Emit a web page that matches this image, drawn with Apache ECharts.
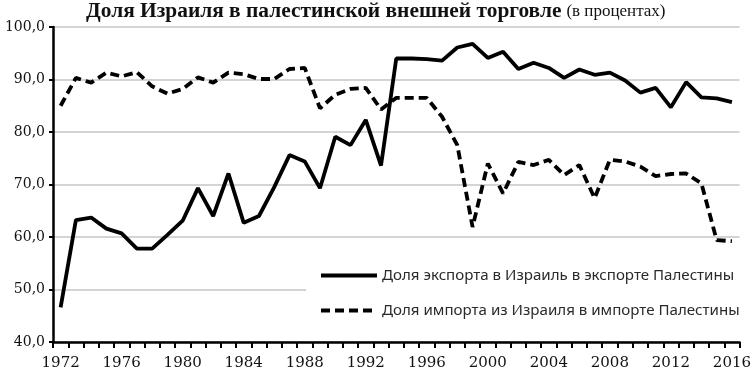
<!DOCTYPE html>
<html><head><meta charset="utf-8">
<script src="https://cdn.jsdelivr.net/npm/echarts@6/dist/echarts.min.js"></script>
<style>html,body{margin:0;padding:0;background:#fff}#c{width:754px;height:376px}</style>
</head><body><div id="c"></div>
<script>
const years = [];
for (let y = 1972; y <= 2016; y++) years.push(String(y));
const exportShare = [46.6,63.2,63.7,61.6,60.7,57.8,57.8,60.4,63.1,69.3,64.0,72.1,62.7,64.0,69.5,75.6,74.4,69.3,79.1,77.5,82.3,73.6,94.0,94.0,93.9,93.6,96.1,96.8,94.1,95.3,92.0,93.2,92.2,90.3,91.9,90.9,91.3,89.8,87.5,88.4,84.7,89.5,86.6,86.4,85.7];
const importShare = [85.0,90.3,89.4,91.3,90.6,91.4,88.7,87.3,88.2,90.4,89.4,91.3,91.0,90.1,90.1,92.0,92.2,84.5,87.1,88.2,88.4,84.3,86.5,86.5,86.5,82.9,77.5,61.9,74.0,68.3,74.3,73.7,74.7,71.8,73.7,67.4,74.7,74.4,73.4,71.6,72.0,72.1,70.2,59.4,59.2];
const seriesNames = ['Доля экспорта в Израиль в экспорте Палестины','Доля импорта из Израиля в импорте Палестины'];
const titleMain = 'Доля Израиля в палестинской внешней торговле';
const titleSub = '(в процентах)';

const chart = echarts.init(document.getElementById('c'));
chart.setOption({
  animation: false,
  backgroundColor: '#fff',
  title: {
    text: '{a|' + titleMain + '} {b|' + titleSub + '}',
    left: 86, top: 1, padding: 0,
    textStyle: { rich: {
      a: { fontFamily: 'Liberation Serif', fontWeight: 'bold', fontSize: 21.4, color: '#111' },
      b: { fontFamily: 'Liberation Serif', fontWeight: 'normal', fontSize: 17, color: '#111' }
    }}
  },
  grid: { left: 53, right: 13, top: 27, bottom: 34 },
  legend: {
    orient: 'vertical', left: 306, top: 264,
    backgroundColor: '#fff', padding: [4, 6, 4, 13],
    itemWidth: 56, itemHeight: 14, itemGap: 20,
    itemStyle: { opacity: 0 },
    lineStyle: { width: 4 },
    textStyle: { fontFamily: 'Noto Sans', fontSize: 15.1, color: '#2a2a2a' },
    data: seriesNames
  },
  xAxis: {
    type: 'category', data: years, boundaryGap: true,
    axisLine: { lineStyle: { color: '#000', width: 2.5 } },
    axisTick: { show: true, interval: 0, length: 6, lineStyle: { color: '#000', width: 2 } },
    axisLabel: { interval: 3, margin: 14, fontFamily: 'DejaVu Serif', fontSize: 15, color: '#111' },
    splitLine: { show: false }
  },
  yAxis: {
    type: 'value', min: 40, max: 100, interval: 10,
    axisLine: { show: true, lineStyle: { color: '#000', width: 2.5 } },
    axisTick: { show: true, length: 4, lineStyle: { color: '#000', width: 2 } },
    axisLabel: { margin: 8, fontFamily: 'DejaVu Serif', fontSize: 14, color: '#111',
      formatter: v => v.toFixed(1).replace('.', ',') },
    splitLine: { lineStyle: { color: '#d4d4d4', width: 2 } }
  },
  series: [
    { name: seriesNames[0], type: 'line', data: exportShare, symbol: 'none',
      lineStyle: { color: '#000', width: 3.8, type: 'solid' }, itemStyle: { color: '#000' } },
    { name: seriesNames[1], type: 'line', data: importShare, symbol: 'none',
      lineStyle: { color: '#000', width: 3.8, type: [9, 5] }, itemStyle: { color: '#000' } }
  ]
});
</script></body></html>
